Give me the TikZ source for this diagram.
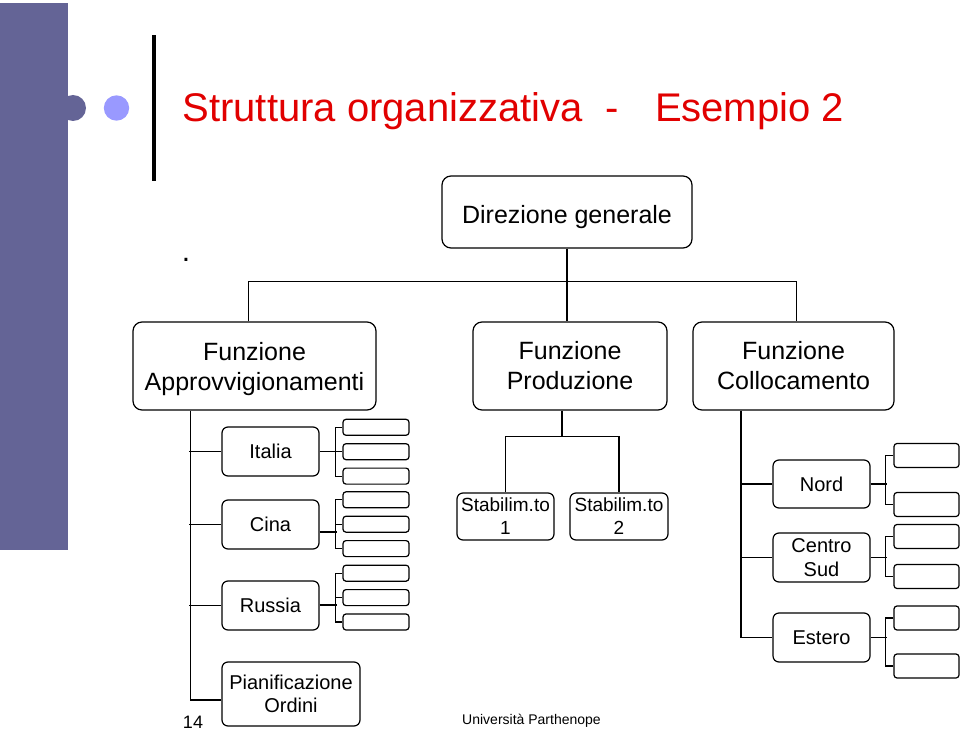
\documentclass[tikz,border=0pt]{standalone}
\usepackage{fontspec}
\setmainfont{Liberation Sans}
\definecolor{slidebar}{RGB}{100,100,150}
\definecolor{slidedot}{RGB}{153,153,255}
\definecolor{slidered}{RGB}{225,0,0}
\newcommand{\lowertext}[2]{\raisebox{#1}[\height][\depth]{#2}}
\begin{document}
\begin{tikzpicture}[x=1pt,y=-1pt,line width=1.2pt,
    box/.style={draw,rounded corners=9,inner sep=0pt,align=center,
                font=\fontsize{25}{30}\selectfont},
    unit/.style={draw,rounded corners=6,inner sep=0pt,align=center,
                 minimum width=97,minimum height=49,
                 font=\fontsize{20}{23.5}\selectfont},
    leaf/.style={draw,rounded corners=3,inner sep=0pt,minimum width=66,minimum height=16},
    bigleaf/.style={leaf,minimum width=65,minimum height=24}]
  \useasboundingbox (0,0) rectangle (960,730);

  \fill[slidebar] (0,3) rectangle (68,550);
  \fill[slidebar] (73,108) circle[radius=13];
  \fill[slidedot] (116.5,108) circle[radius=12.7];
  \fill[black] (152,35) rectangle (156,181);
  \node[anchor=base west,inner sep=0pt,text=slidered,font=\fontsize{40}{48}\selectfont]
       (title) at (182,122) {Struttura organizzativa\hspace{23pt}-\hspace{36pt}Esempio 2};
  \node[anchor=base,inner sep=0pt,font=\fontsize{30}{36}\selectfont] (dot) at (186,261) {.};

  \node[box,minimum width=250,minimum height=72] (dg) at (567,212)   {\lowertext{-5pt}{Direzione generale}};
  \node[box,minimum width=243,minimum height=88] (fa) at (254.5,366) {\lowertext{-3pt}{Funzione}\\\lowertext{-3pt}{Approvvigionamenti}};
  \node[box,minimum width=194,minimum height=88] (fp) at (570,366)   {Funzione\\Produzione};
  \node[box,minimum width=201,minimum height=88] (fc) at (793.5,366) {Funzione\\Collocamento};

  \draw (dg.south) -- ++(0,33) coordinate (tb);
  \draw ([xshift=-6]fa.north) |- (tb) -| ([xshift=3]fc.north);
  \draw (tb) -- (tb |- fp.north);

  \node[unit] (it) at (270.5,451.5) {Italia};
  \node[unit] (ci) at (270.5,524.5) {Cina};
  \node[unit] (ru) at (270.5,605.5) {Russia};
  \node[unit,minimum width=138,minimum height=64] (pi) at (291,694) {Pianificazione\\Ordini};

  \draw ([xshift=-64]fa.south) |- ([yshift=-6]pi.west);
  \foreach \n in {it,ci,ru}
    \draw (\n.west) -- ++(-32,0);

  \foreach \n/\y/\d in {it/427.3/0,ci/499.8/-7.5,ru/573.2/0.5}{
    \foreach \i in {1,2,3}
      \node[leaf] (\n\i) at (376,\y+24.4*\i-24.4) {};
    \draw ([yshift=\d]\n.east) -- ++(17,0);
    \draw (\n1.west) -- ++(-7,0) |- (\n3.west);
    \draw (\n2.west) -- ++(-7,0);
  }

  \node[unit,minimum width=97,minimum height=47,font=\fontsize{19}{23}\selectfont]
       (s1) at (505.5,516.5) {Stabilim.to\\1};
  \node[unit,minimum width=98,minimum height=47,font=\fontsize{19}{23}\selectfont]
       (s2) at (619,516.5)   {Stabilim.to\\2};

  \draw ([xshift=-8]fp.south) -- ++(0,26) coordinate (pb);
  \draw (s1.north) |- (pb) -| (s2.north);

  \node[unit,minimum height=48] (no) at (821.5,484)   {Nord};
  \node[unit]                   (cs) at (821.5,557.5) {Centro\\Sud};
  \node[unit]                   (es) at (821.5,637.5) {Estero};

  \draw ([xshift=-52.5]fc.south) |- (es.west);
  \foreach \n in {no,cs}
    \draw (\n.west) -- ++(-32,0);

  \foreach \n/\a/\b in {no/455.5/504.5,cs/536.5/576.5,es/618/666}{
    \node[bigleaf] (\n1) at (926.5,\a) {};
    \node[bigleaf] (\n2) at (926.5,\b) {};
    \draw (\n.east) -- ++(16,0);
    \draw (\n1.west) -- ++(-8,0) |- (\n2.west);
  }

  \node[anchor=base,inner sep=0pt,font=\fontsize{18}{20}\selectfont] (pg) at (193,728) {14};
  \node[anchor=base,inner sep=0pt,font=\fontsize{14}{16}\selectfont] (uni) at (531.5,724) {Università Parthenope};
\end{tikzpicture}
\end{document}
